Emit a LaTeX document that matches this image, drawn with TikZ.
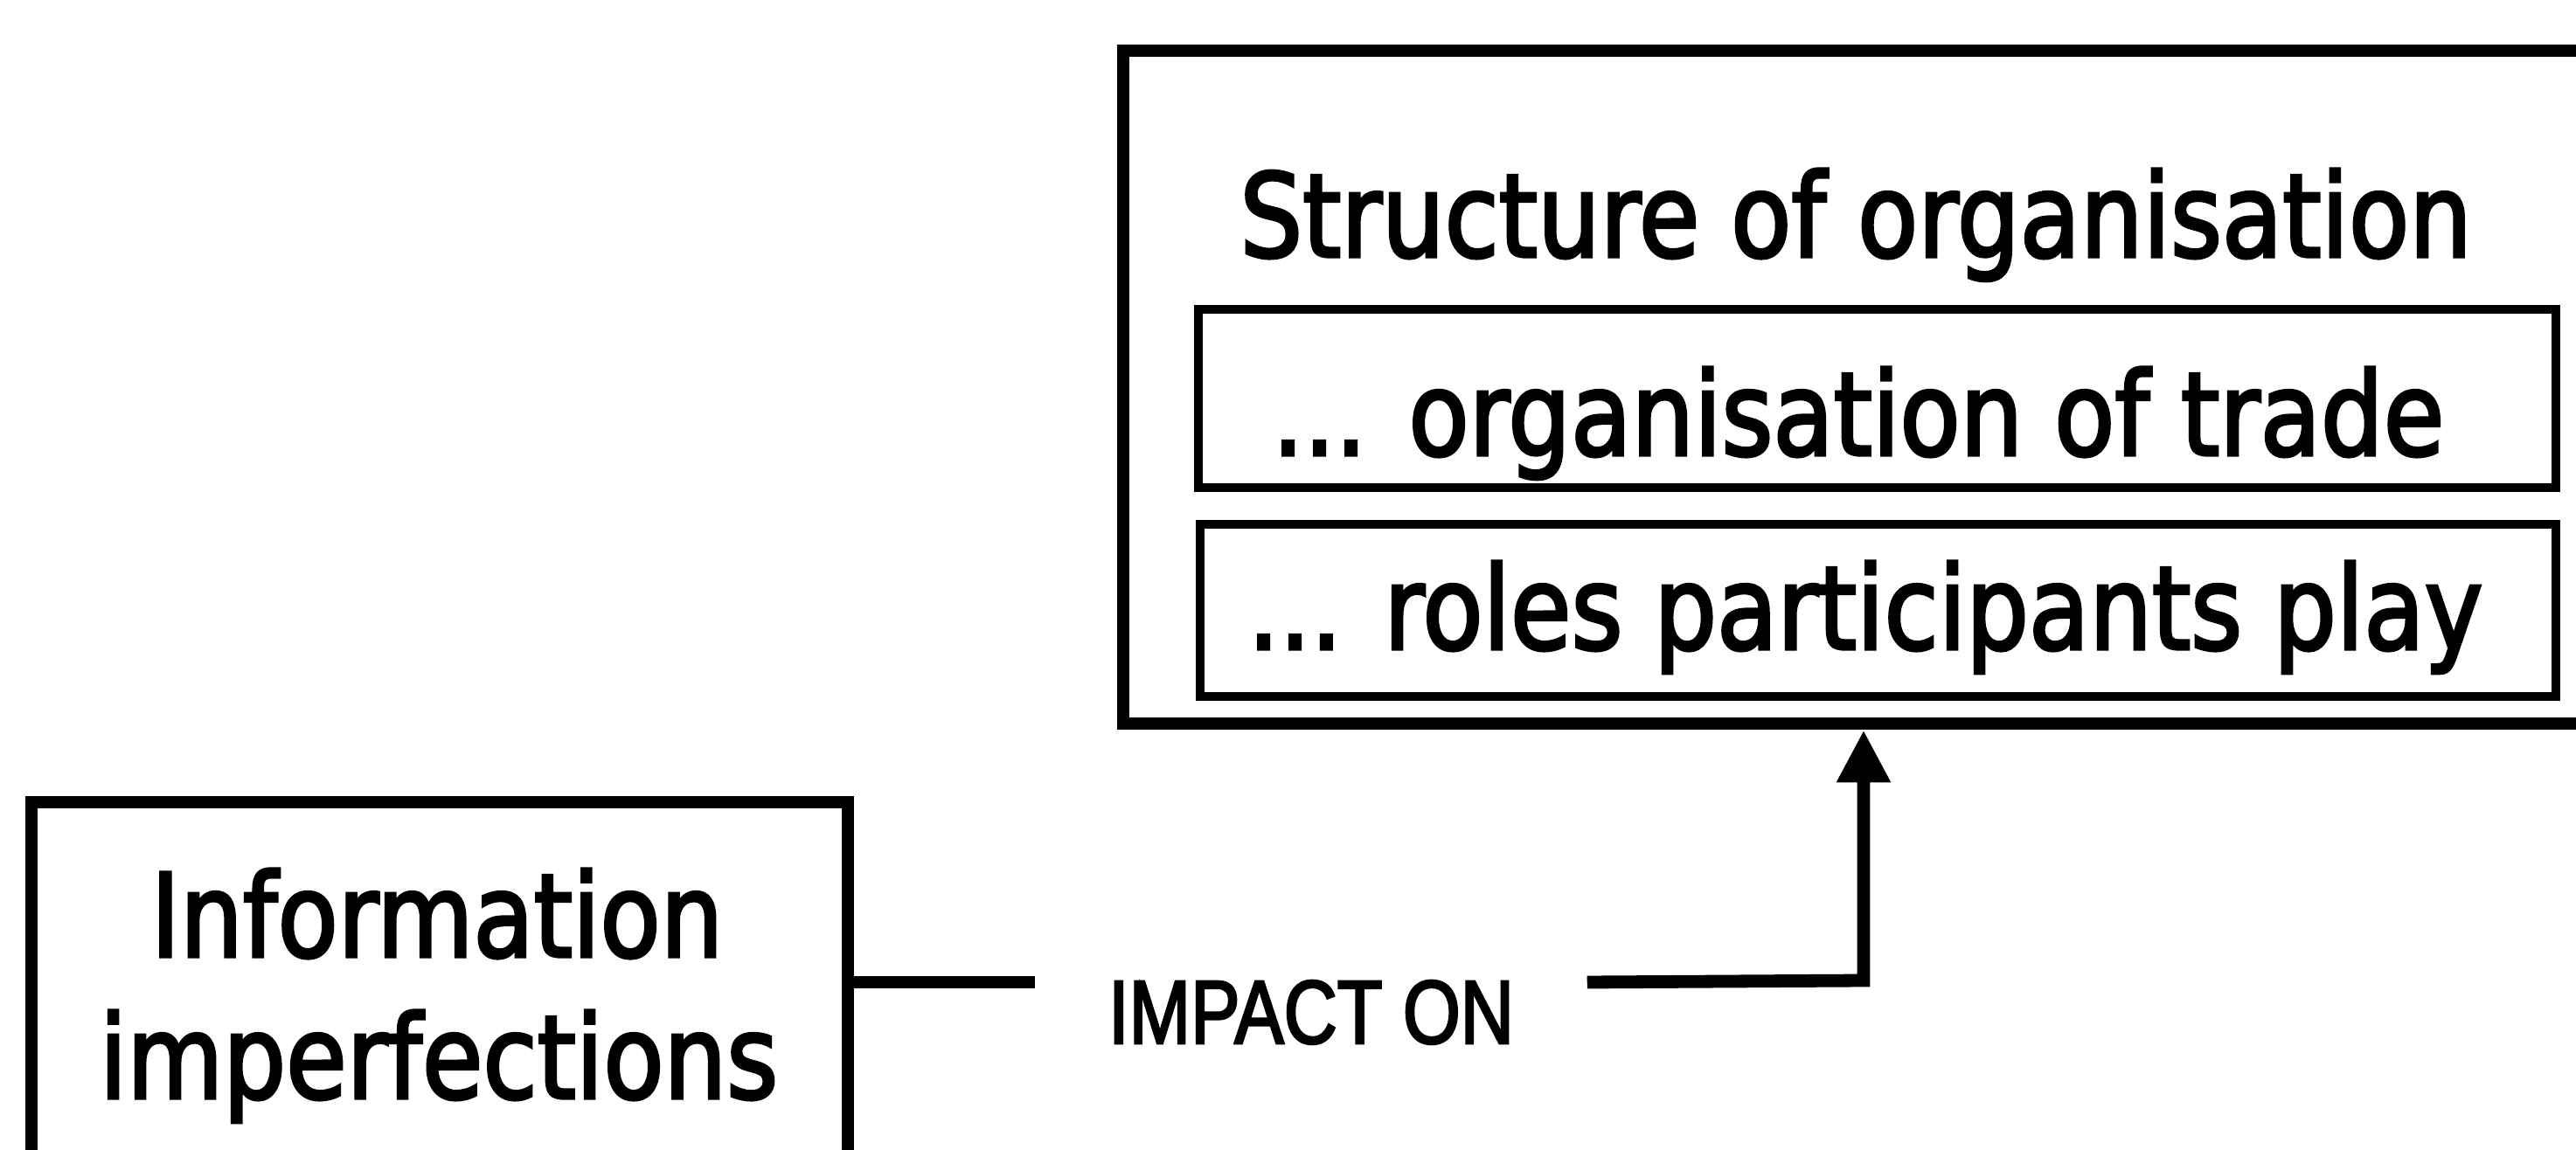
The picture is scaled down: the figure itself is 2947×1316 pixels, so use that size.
\documentclass[tikz,border=0pt]{standalone}
\usepackage{fontspec}
\setmainfont{DejaVu Sans}[FakeStretch=0.85, FakeBold=2.5]
\newfontfamily\narrowfont{Liberation Sans}[FakeStretch=0.82, FakeBold=2.5]
\usetikzlibrary{fit,arrows.meta}

\tikzset{
  frame/.style={draw, line width=3.7pt, inner sep=0pt, fit=#1},
  subframe/.style={draw, line width=2.4pt, inner sep=0pt, fit=#1},
  caption/.style={anchor=base, inner sep=0pt, font=\fontsize{33.25}{40}\selectfont},
  tag/.style={anchor=base, inner xsep=20.75pt, inner ysep=0pt, font=\narrowfont\fontsize{25.8}{30}\selectfont},
  link/.style={line width=3.7pt, line cap=butt, line join=miter},
}

\begin{document}
\begin{tikzpicture}[x=0.25pt, y=-0.25pt]
  \useasboundingbox (0,0) rectangle (2947,1316);

  % corner points of the boxes
  \coordinate (o1) at (1285,58);   \coordinate (o2) at (2965,828);
  \coordinate (a1) at (1371,354);  \coordinate (a2) at (2924,558);
  \coordinate (b1) at (1373,600);  \coordinate (b2) at (2924,797);
  \coordinate (i1) at (36,918);    \coordinate (i2) at (970,1330);

  % structure box with its two sub-boxes
  \node[frame={(o1)(o2)}] (outer) {};
  \node[subframe={(a1)(a2)}] (trade) {};
  \node[subframe={(b1)(b2)}] (roles) {};
  \node[caption] (title) at (2123,294) {Structure of organisation};
  \node[caption] (tradetext) at (2126,521) {... organisation of trade};
  \node[caption] (rolestext) at (2134,743) {... roles participants play};

  % information box
  \node[frame={(i1)(i2)}] (info) {};
  \node[caption] (infotext1) at (500,1095) {Information};
  \node[caption] (infotext2) at (502,1257) {imperfections};

  % connector label
  \node[tag] (impact) at (1500,1194) {IMPACT ON};

  % connector
  \coordinate (bend) at (2132,1122);
  \draw[link] (info.east) -- (info.east -| impact.west);
  \draw[link, -{Triangle[length=15pt,width=14.5pt]}]
    (info.east -| impact.east) -- (bend) -- (bend |- outer.south);
\end{tikzpicture}
\end{document}
